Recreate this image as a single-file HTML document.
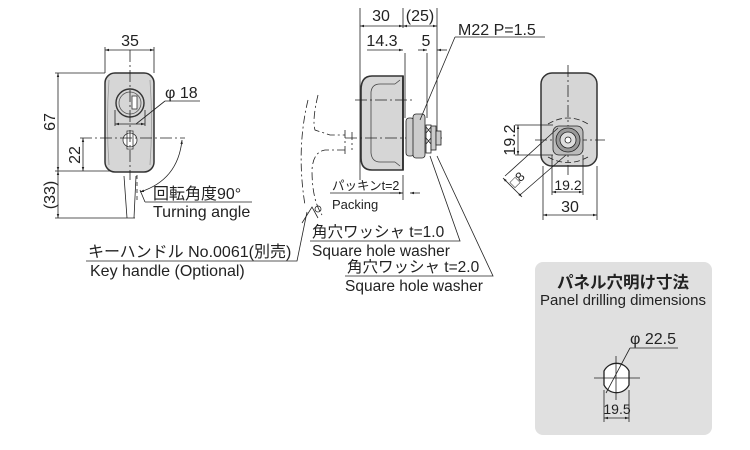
<!DOCTYPE html>
<html><head><meta charset="utf-8"><style>
html,body{margin:0;padding:0;background:#fff;}
svg{display:block;}
text{font-family:"Liberation Sans","Noto Sans CJK JP",sans-serif;fill:#222;}
</style></head><body>
<svg width="750" height="450" viewBox="0 0 750 450" xmlns="http://www.w3.org/2000/svg">
<defs>
<marker id="a" viewBox="0 0 10 10" refX="10" refY="5" markerWidth="7" markerHeight="5" orient="auto-start-reverse"><path d="M0,2 L10,5 L0,8 z" fill="#222"/></marker>
</defs>
<g stroke="#222" stroke-width="0.8" fill="none">
<rect x="105" y="73" width="49" height="99" rx="10" fill="#d6d6d6" stroke="#333" stroke-width="1.5"/>
<path d="M109,80 Q106,122 109,165 M150,80 Q153,122 150,165" stroke="#999"/>
<circle cx="130" cy="103" r="14" fill="#d6d6d6" stroke="#333" stroke-width="1.4"/>
<circle cx="130" cy="103" r="11" stroke="#555"/>
<rect x="132" y="96" width="5" height="13" fill="#fff" stroke="#333"/>
<path d="M123,140 a7,7 0 0 1 14,0 a7,7 0 0 1 -14,0 z M127,131 h6 v18 h-6 z" fill="#fff" stroke="#333"/>
<path d="M130,50 V180" stroke-dasharray="12,3,2,3"/>
<path d="M105,47 V73 M154,47 V73"/>
<path d="M105,50 H154" marker-start="url(#a)" marker-end="url(#a)"/>
<path d="M55,73 H105 M55,171 H110 M55,218 H135" />
<path d="M80,138 H185" stroke-dasharray="12,3,2,3"/>
<path d="M58,73 V171" marker-start="url(#a)" marker-end="url(#a)"/>
<path d="M58,171 V218" marker-start="url(#a)" marker-end="url(#a)"/>
<path d="M83,138 V171" marker-start="url(#a)" marker-end="url(#a)"/>
<path d="M115,124 H145" marker-start="url(#a)" marker-end="url(#a)"/>
<path d="M115,110 V126 M145,110 V126"/>
<path d="M165,101 H200 M165,101 L136,124"/>
<path d="M124,176 L127,218 M136,176 L134,218"/>
<path d="M137,175 V200" stroke-dasharray="4,3"/>
<path d="M182,140 Q178,180 140,192" marker-start="url(#a)" marker-end="url(#a)"/>
<path d="M145,202 H252 M145,202 L140,190"/>
<path d="M86,261 H297 L307,212"/>
<path d="M403,76 H372 Q361,76 361,90 V158 Q361,170 372,170 H403 Z" fill="#d6d6d6" stroke="#333" stroke-width="1.6"/>
<path d="M395,84 H380 Q372,84 371,92 V153 Q372,162 380,162 H395" stroke="#444"/>
<path d="M395,84 L400,80 M395,162 L400,166" stroke="#444"/>
<path d="M403,76 V170" stroke-width="1.5"/>
<path d="M360,8 V180 M403,8 V28 M437,8 V145 M405,53 V118 M427,53 V118 M403,175 V200"/>
<path d="M360,26 H403" marker-start="url(#a)" marker-end="url(#a)"/>
<path d="M403,26 H437" marker-start="url(#a)" marker-end="url(#a)"/>
<path d="M367,50 H403" marker-end="url(#a)"/>
<path d="M418,50 H427" marker-end="url(#a)"/>
<path d="M447,50 H437" marker-end="url(#a)"/>
<path d="M355,100 H415 M345,138 H445" stroke-dasharray="12,3,2,3"/>
<rect x="406" y="118" width="8" height="38" rx="3" fill="#ccc" stroke="#222"/>
<rect x="413" y="114" width="12" height="44" rx="3" fill="#ccc" stroke="#222"/>
<rect x="426" y="125" width="5" height="28" fill="#fff" stroke="#222"/>
<path d="M426,127 l5,6 m0,-6 l-5,6 M426,138 l5,6 m0,-6 l-5,6"/>
<rect x="431" y="126" width="5" height="24" fill="#ccc" stroke="#222"/>
<rect x="436" y="131" width="5" height="14" fill="#ccc" stroke="#222"/>
<path d="M455,37 H545 M455,37 L420,120"/>
<path d="M330,193 H400" />
<path d="M390,193 H403" marker-end="url(#a)"/>
<path d="M420,193 H410" marker-end="url(#a)"/>
<path d="M310,241 H460 L430,156"/>
<path d="M345,276 H493 L437,156"/>
<g stroke-dasharray="8,3,2,3">
<path d="M308,100 Q296,150 305,205"/>
<path d="M318,95 Q312,120 315,130 L330,135 H345"/>
<path d="M345,150 H325 Q313,152 312,170 Q312,200 322,215"/>
<path d="M345,130 V155 M352,132 V150"/>
</g>
<circle cx="318" cy="209" r="3"/>
<path d="M302,223 L312,207 L318,218"/>
<rect x="541" y="73" width="56" height="93" rx="11" fill="#d6d6d6" stroke="#333" stroke-width="1.5"/>
<path d="M568,65 V175 M535,140 H605" stroke-dasharray="12,3,2,3"/>
<path d="M548,124 Q568,112 588,124 M548,157 Q568,168 588,157" stroke-dasharray="6,3"/>
<rect x="553" y="126" width="30" height="29" rx="6" fill="#bbb" stroke="#222"/>
<circle cx="568" cy="140" r="12" fill="#999" stroke="#222"/>
<circle cx="568" cy="140" r="8" fill="#ddd" stroke="#222"/>
<circle cx="568" cy="140" r="3" fill="#fff" stroke="#222"/>
<path d="M515,125 H553 M515,155 H553"/>
<path d="M518,125 V155" marker-start="url(#a)" marker-end="url(#a)"/>
<path d="M552,155 V195 M583,155 V195 M543,166 V220 M597,166 V220"/>
<path d="M552,192 H583" marker-start="url(#a)" marker-end="url(#a)"/>
<path d="M543,215 H597" marker-start="url(#a)" marker-end="url(#a)"/>
<path d="M505,176 L558,128 M520,195 L566,155"/>
<path d="M503,178 L522,197" marker-start="url(#a)" marker-end="url(#a)"/>
</g>
<rect x="535" y="262" width="177" height="173" rx="8" fill="#e0e0e0"/>
<g stroke="#222" stroke-width="0.8" fill="none">
<path d="M604,371 A14,14 0 0 1 629,371 V385 A14,14 0 0 1 604,385 Z" fill="#fff" stroke-width="1.3"/>
<path d="M616,356 V400 M594,378 H640"/>
<path d="M630,348 H678 M630,348 L606,393"/>
<path d="M604,390 V422 M629,390 V422"/>
<path d="M604,418 H629" marker-start="url(#a)" marker-end="url(#a)"/>
</g>
<g font-size="16">
<text x="130" y="46" text-anchor="middle">35</text>
<text transform="translate(55,122) rotate(-90)" text-anchor="middle">67</text>
<text transform="translate(80,155) rotate(-90)" text-anchor="middle">22</text>
<text transform="translate(55,195) rotate(-90)" text-anchor="middle">(33)</text>
<text x="165" y="98">φ 18</text>
<text x="153" y="199">回転角度90°</text>
<text x="153" y="217">Turning angle</text>
<text x="88" y="257">キーハンドル No.0061(別売)</text>
<text x="90" y="276">Key handle (Optional)</text>
<text x="381" y="21" text-anchor="middle">30</text>
<text x="420" y="21" text-anchor="middle">(25)</text>
<text x="382" y="46" text-anchor="middle">14.3</text>
<text x="426" y="46" text-anchor="middle">5</text>
<text x="458" y="35">M22 P=1.5</text>
<text x="332" y="190" font-size="12.5">パッキンt=2</text>
<text x="332" y="209" font-size="13">Packing</text>
<text x="312" y="237" font-size="15.5">角穴ワッシャ t=1.0</text>
<text x="312" y="256" font-size="15.5">Square hole washer</text>
<text x="347" y="272" font-size="15.5">角穴ワッシャ t=2.0</text>
<text x="345" y="291" font-size="15.5">Square hole washer</text>
<text transform="translate(515,140) rotate(-90)" text-anchor="middle">19.2</text>
<text x="568" y="190" text-anchor="middle" font-size="14">19.2</text>
<text x="570" y="212" text-anchor="middle">30</text>
<text transform="translate(515,188) rotate(-45)" font-size="13">□8</text>
<text x="623" y="288" text-anchor="middle" font-size="16.5" font-weight="bold">パネル穴明け寸法</text>
<text x="623" y="305" text-anchor="middle" font-size="15">Panel drilling dimensions</text>
<text x="630" y="344">φ 22.5</text>
<text x="617" y="414" text-anchor="middle" font-size="14">19.5</text>
</g>
</svg>
</body></html>
